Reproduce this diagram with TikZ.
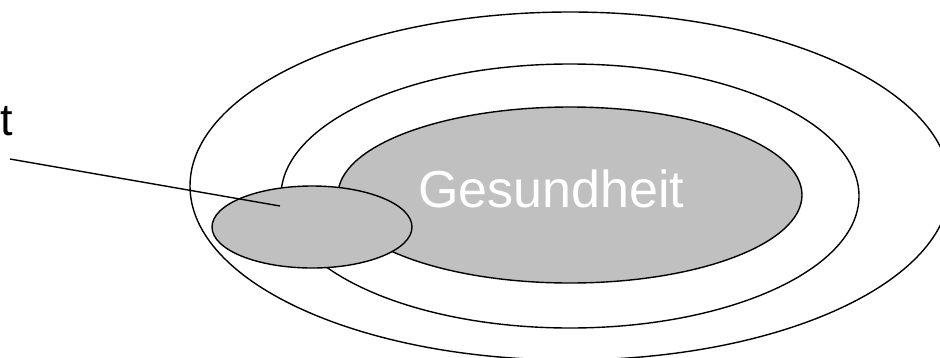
\documentclass[tikz,border=0pt]{standalone}
\usepackage{fontspec}
\setmainfont{Liberation Sans}
\usetikzlibrary{shapes.geometric}
\definecolor{fillgray}{HTML}{C0C0C0}
\tikzset{
  ring/.style={draw=black, line width=1.4pt, ellipse, inner sep=0pt},
  blob/.style={ring, fill=fillgray},
  pointer/.style={draw=black, line width=1.4pt},
}
\begin{document}
\begin{tikzpicture}[x=1pt,y=-1pt]
\useasboundingbox (0,0) rectangle (940,357);
\begin{scope}
\clip (0,0) rectangle (940,357);
\node[ring, minimum width=760pt, minimum height=348pt] (outer) at (570,186) {};
\node[ring, minimum width=578pt, minimum height=264pt] (middle) at (570,196) {};
\node[blob, minimum width=464pt, minimum height=176pt] (inner) at (570,195) {};
\node[blob, minimum width=200pt, minimum height=82pt] (small) at (312,227) {};
\node[anchor=base, text=white, font=\fontsize{52}{60}\selectfont, inner sep=0pt] (gl) at (551.5,207) {Gesundheit};
\node[anchor=base east, font=\fontsize{45}{54}\selectfont, inner sep=0pt] (tl) at (13,135) {t};
\coordinate (p1) at (10,159);
\coordinate (p2) at (280,206);
\draw[pointer] (p1) -- (p2);
\end{scope}
\end{tikzpicture}
\end{document}
